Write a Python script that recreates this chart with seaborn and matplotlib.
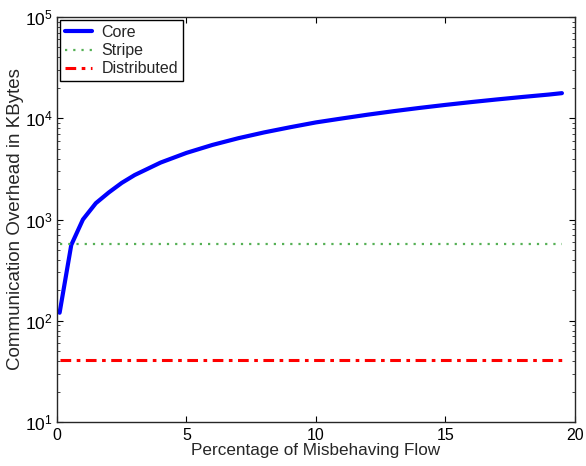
import pandas as pd
import matplotlib
matplotlib.use("Agg")
import matplotlib.pyplot as plt
import seaborn as sns

# valores
x_core = [0.1, 0.55, 1, 1.5, 2, 2.5, 3, 4, 5, 6, 7, 8, 9, 10, 11, 12, 13, 14, 15, 16, 17, 18, 19, 19.5]
core = [120, 560, 1000, 1450, 1850, 2300, 2750, 3650, 4550, 5450, 6350, 7250, 8150, 9100,
        9950, 10850, 11750, 12650, 13550, 14450, 15350, 16250, 17150, 17700]
x_flat = [0.1, 19.5]
stripe = [570, 570]
distributed = [41, 41]

sns.set_style("ticks")
plt.rcParams['font.family'] = ['Liberation Sans', 'DejaVu Sans']
plt.rcParams['xtick.direction'] = 'in'
plt.rcParams['ytick.direction'] = 'in'
plt.rcParams['xtick.top'] = True
plt.rcParams['ytick.right'] = True
plt.rcParams['mathtext.fontset'] = 'custom'
plt.rcParams['mathtext.rm'] = 'Liberation Sans'

fig = plt.figure(figsize=(5.86, 4.66), dpi=100)
ax = fig.add_axes([0.0973, 0.0944, 0.8837, 0.8691])

sns.lineplot(x=x_core, y=core, ax=ax, color="#0000ff", linewidth=3, label="Core")
sns.lineplot(x=x_flat, y=stripe, ax=ax, color="#55b055", linewidth=1.6, linestyle=(0, (1, 2.7)), label="Stripe")
sns.lineplot(x=x_flat, y=distributed, ax=ax, color="#ff0000", linewidth=2.2, linestyle=(0, (3.5, 1.8, 1.2, 1.8)), label="Distributed")

ax.set_yscale("log")
ax.set_xlim(0, 20)
ax.set_ylim(10, 1e5)
ax.set_xticks([0, 5, 10, 15, 20])
ax.tick_params(axis="x", labelsize=11.5, length=4, width=0.8, colors="black", pad=4.5)
ax.tick_params(axis="y", labelsize=12.5, length=4, width=0.8, colors="black", pad=3)
ax.tick_params(which="minor", length=2.5)
for s in ax.spines.values():
    s.set_linewidth(1)
ax.set_xlabel("Percentage of Misbehaving Flow", fontsize=12.3, labelpad=0)
ax.set_ylabel("Communication Overhead in KBytes", fontsize=13.5, labelpad=1)

leg = ax.legend(loc="upper left", fontsize=11.5, fancybox=False, framealpha=1, edgecolor="black",
                borderaxespad=0.2, handlelength=1.7, handletextpad=0.6, borderpad=0.3,
                labelspacing=0.2)
leg.get_frame().set_linewidth(1)

plt.savefig("out.png", dpi=100)
